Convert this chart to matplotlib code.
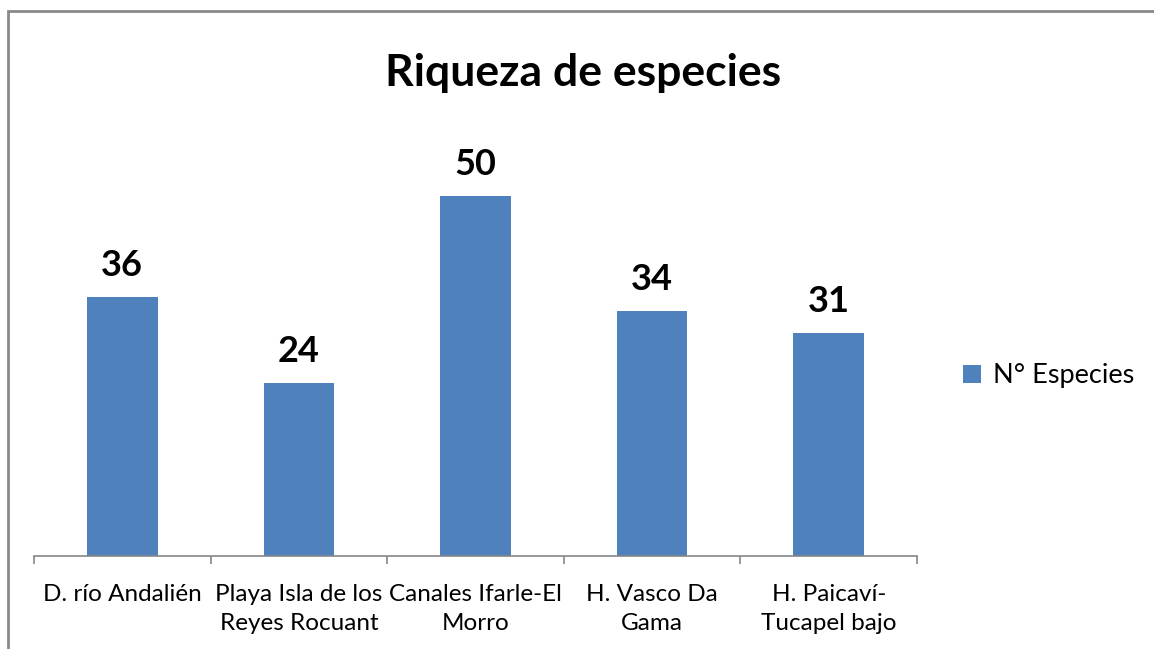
import matplotlib
matplotlib.use("Agg")
import matplotlib.pyplot as plt
from matplotlib.patches import Rectangle

categories = ["D. río Andalién", "Playa Isla de los\nReyes Rocuant", "Canales Ifarle-El\nMorro",
              "H. Vasco Da\nGama", "H. Paicaví-\nTucapel bajo"]
values = [36, 24, 50, 34, 31]
series_name = "N° Especies"
title = "Riqueza de especies"

plt.rcParams['font.family'] = ['Lato', 'DejaVu Sans']

W, H = 1154, 649
fig = plt.figure(figsize=(W / 100, H / 100), dpi=100)

# outer chart border (open on the right and bottom, as cropped in the original)
fig.add_artist(Rectangle((8 / W, -0.05), 2.0, (H - 11) / H + 0.05, transform=fig.transFigure,
                         fill=False, edgecolor="#898989", linewidth=2))

ax = fig.add_axes([34 / W, (H - 556) / H, 883 / W, 432 / H])
x = list(range(len(categories)))
bars = ax.bar(x, values, width=0.4, color="#4F81BD", label=series_name, zorder=2)
ax.set_xlim(-0.5, len(categories) - 0.5)
ax.set_ylim(0, 60)

for xi, v in zip(x, values):
    ax.annotate(str(v), (xi, v), xytext=(0, 11), textcoords="offset points",
                ha="center", va="bottom", fontsize=26, fontweight="bold", color="black")

for s in ["top", "right", "left"]:
    ax.spines[s].set_visible(False)
ax.spines["bottom"].set_color("#868686")
ax.spines["bottom"].set_linewidth(1.2)
ax.set_yticks([])
ax.set_xticks([i - 0.5 for i in range(len(categories) + 1)], minor=False)
ax.set_xticklabels([])
ax.tick_params(axis="x", which="major", length=6, color="#868686", width=1.2)
ax.set_xticks(x, minor=True)
ax.set_xticklabels(categories, minor=True, fontsize=17.5, color="black", linespacing=1.5)
ax.tick_params(axis="x", which="minor", length=0, pad=20)

fig.text(583 / W, 1 - 73 / H, title, ha="center", va="center", fontsize=32, fontweight="bold")

leg = fig.legend(handles=[bars], labels=[series_name], loc="center left",
                 bbox_to_anchor=(963 / W, 1 - 376 / H), frameon=False, fontsize=19.5,
                 handlelength=0.65, handleheight=0.65, handletextpad=0.45,
                 borderpad=0, borderaxespad=0)

fig.savefig("out.png", dpi=100, facecolor="white")
